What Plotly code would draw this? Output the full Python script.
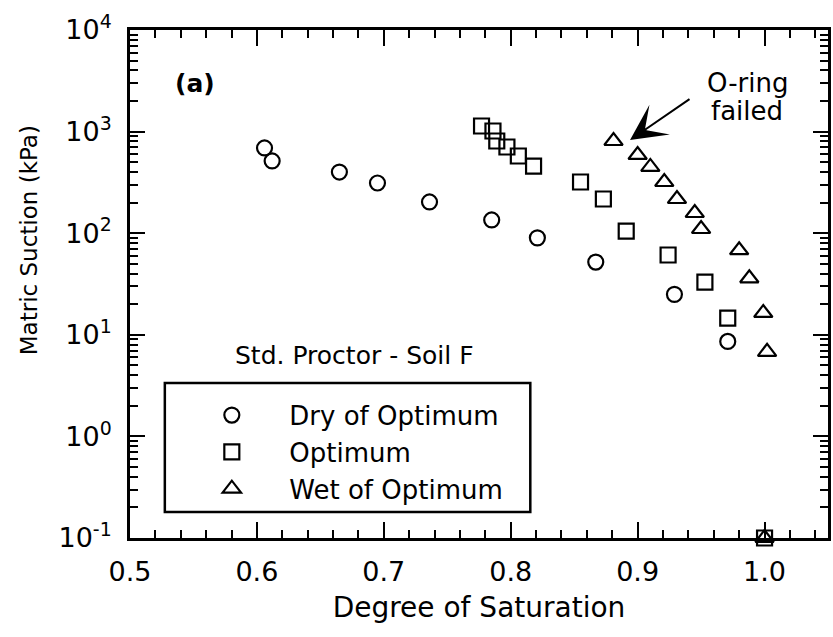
import plotly.graph_objects as go

# Data
dry_x = [0.606, 0.612, 0.665, 0.695, 0.736, 0.785, 0.821, 0.867, 0.929, 0.971]
dry_y = [690, 514, 400, 312, 203, 135, 90, 52, 25, 8.6]

opt_x = [0.777, 0.786, 0.789, 0.797, 0.806, 0.818, 0.855, 0.873, 0.891, 0.924, 0.953, 0.971, 1.0]
opt_y = [1135, 1014, 808, 705, 575, 458, 319, 217, 105, 61, 33, 14.6, 0.1]

wet_x = [0.881, 0.900, 0.910, 0.921, 0.931, 0.945, 0.950, 0.980, 0.988, 0.999, 1.002, 1.0]
wet_y = [808, 589, 449, 319, 217, 158, 110, 68, 36, 16.4, 6.8, 0.1]

series_names = ["Dry of Optimum", "Optimum", "Wet of Optimum"]
y_tickvals = [0.1, 1, 10, 100, 1000, 10000]
y_ticktext = ["10<sup>-1</sup>", "10<sup>0</sup>", "10<sup>1</sup>", "10<sup>2</sup>",
              "10<sup>3</sup>", "10<sup>4</sup>"]

FONT = "DejaVu Sans"

fig = go.Figure()
for name, xs, ys, sym, size in [
    (series_names[0], dry_x, dry_y, "circle-open", 15),
    (series_names[1], opt_x, opt_y, "square-open", 15),
    (series_names[2], wet_x, wet_y, "triangle-up-open", 16),
]:
    fig.add_trace(go.Scatter(
        x=xs, y=ys, mode="markers", name=name, cliponaxis=False,
        marker=dict(symbol=sym, size=size, color="black", line=dict(color="black", width=2.2)),
    ))

fig.update_layout(
    width=833, height=637,
    margin=dict(l=130, r=2, t=30, b=99),
    paper_bgcolor="white", plot_bgcolor="white",
    font=dict(family=FONT, size=26, color="black"),
    showlegend=True,
    legend=dict(
        x=0.0635, y=0.288, xanchor="left", yanchor="top",
        bgcolor="rgba(0,0,0,0)", borderwidth=0,
        itemwidth=105, font=dict(size=26, family=FONT),
    ),
)

fig.update_xaxes(
    range=[0.5, 1.05], tick0=0.5, dtick=0.1, tickformat=".1f",
    ticks="inside", ticklen=16, tickwidth=2, tickcolor="black",
    mirror="ticks", showline=True, linewidth=2.8, linecolor="black",
    showgrid=False, zeroline=False, ticklabelstandoff=8,
    tickfont=dict(size=27),
    minor=dict(tick0=0.5, dtick=0.02, ticks="inside", ticklen=8, tickwidth=1.5,
               tickcolor="black", showgrid=False),
    title=dict(text="Degree of Saturation", font=dict(size=28), standoff=12),
)

fig.update_yaxes(
    type="log", range=[-1, 4], tickmode="array", tickvals=y_tickvals, ticktext=y_ticktext,
    ticks="inside", ticklen=15, tickwidth=2, tickcolor="black",
    mirror="ticks", showline=True, linewidth=2.8, linecolor="black",
    showgrid=False, zeroline=False, ticklabelstandoff=10,
    tickfont=dict(size=27),
    minor=dict(dtick="D1", ticks="inside", ticklen=8, tickwidth=1.5,
               tickcolor="black", showgrid=False),
)

# Y axis title (placed above centre as in the reference)
fig.add_annotation(text="Matric Suction (kPa)", xref="paper", yref="paper",
                   x=-0.1455, y=0.587, xanchor="center", yanchor="middle",
                   textangle=-90, showarrow=False, font=dict(size=23))

# Legend frame
fig.add_shape(type="rect", xref="paper", yref="paper",
              x0=0.0499, x1=0.5735, y0=0.0512, y1=0.305,
              line=dict(color="black", width=2.5), fillcolor="rgba(0,0,0,0)")

fig.add_annotation(text="Std. Proctor - Soil F", xref="paper", yref="paper",
                   x=0.321, y=0.360, xanchor="center", yanchor="middle",
                   showarrow=False, font=dict(size=25))
fig.add_annotation(text="<b>(a)</b>", xref="paper", yref="paper",
                   x=0.0927, y=0.895, xanchor="center", yanchor="middle",
                   showarrow=False, font=dict(size=25))
fig.add_annotation(text="O-ring", xref="paper", yref="paper",
                   x=0.884, y=0.896, xanchor="center", yanchor="middle",
                   showarrow=False, font=dict(size=26))
fig.add_annotation(text="failed", xref="paper", yref="paper",
                   x=0.884, y=0.841, xanchor="center", yanchor="middle",
                   showarrow=False, font=dict(size=26))
# arrow pointing to the failed point
fig.add_annotation(text="", x=0.894, y=2.917, xref="x", yref="y",
                   ax=61, ay=-42, showarrow=True, arrowhead=3, arrowsize=3.0,
                   arrowwidth=2, arrowcolor="black")

fig.write_html("out.html")
